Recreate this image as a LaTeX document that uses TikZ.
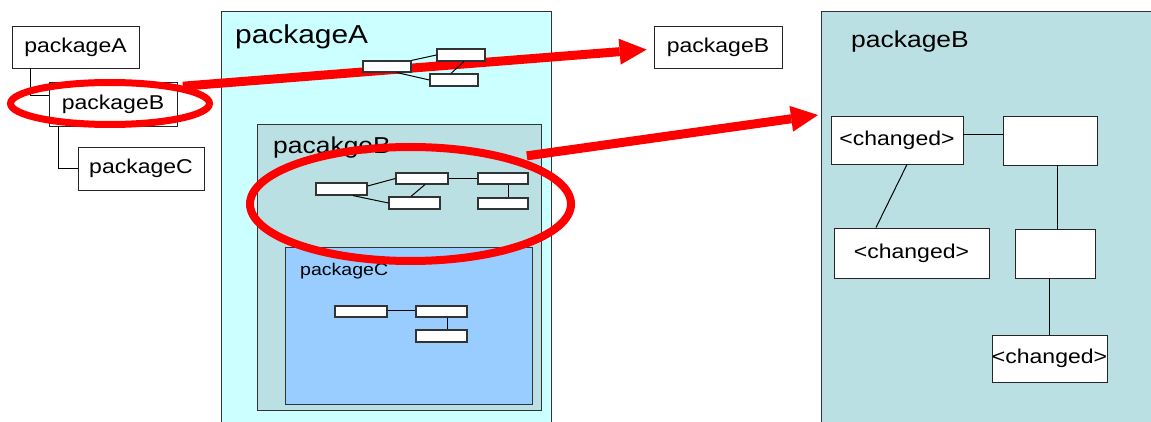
\documentclass[tikz,border=0pt]{standalone}
\usepackage{fontspec}
\setmainfont{Liberation Sans}[FakeStretch=1.15]
\usetikzlibrary{arrows.meta,shapes.geometric}

\definecolor{pkgcyan}{RGB}{204,255,255}
\definecolor{pkgteal}{RGB}{187,224,227}
\definecolor{pkgblue}{RGB}{153,204,255}

\tikzset{
  panel/.style={draw=black!80, line width=1pt, inner sep=0pt, outer sep=0pt},
  title/.style={anchor=base west, inner sep=0pt, text=black},
  treebox/.style={draw=black!85, line width=0.9pt, fill=white, inner sep=0pt,
    font=\fontsize{20}{24}\selectfont},
  mini/.style={draw=black!80, line width=1.2pt, fill=white, inner sep=0pt},
  link/.style={draw=black, line width=1pt},
  halo/.style={draw=red, ellipse, inner sep=0pt},
  bigarrow/.style={draw=red, line width=9pt,
    -{Triangle[length=27pt,width=26pt,line width=0pt]}},
}

\begin{document}
\begin{tikzpicture}[x=1pt,y=-1pt]
\useasboundingbox (0,0) rectangle (1151,422);
\fill[white] (0,0) rectangle (1151,422);

% nested package panels
\node[panel, fill=pkgcyan, minimum width=330pt, minimum height=430pt] (pA) at (386.5,227) {};
\node[title, font=\fontsize{26}{30}\selectfont] (pAt) at (235,43.5) {packageA};
\node[panel, fill=pkgteal, minimum width=284pt, minimum height=285pt] (pB) at (399,267.5) {};
\node[title, font=\fontsize{23}{27}\selectfont] (pBt) at (273,154) {pacakgeB};
\node[panel, fill=pkgblue, minimum width=247pt, minimum height=157pt] (pC) at (408.5,325.5) {};
\node[title, font=\fontsize{17}{20}\selectfont] (pCt) at (300,275) {packageC};

% right-hand package panel
\node[panel, fill=pkgteal, minimum width=332pt, minimum height=428pt] (pR) at (987,226) {};
\node[title, font=\fontsize{23}{27}\selectfont] (pRt) at (851,48) {packageB};

% package tree on the left
\node[treebox, minimum width=127pt, minimum height=42pt] (lA) at (75.5,47) {packageA};
\node[treebox, minimum width=128pt, minimum height=44pt] (lB) at (113,104) {packageB};
\node[treebox, minimum width=126pt, minimum height=43pt] (lC) at (141,168.5) {packageC};
\draw[link] ([xshift=19pt]lA.south west) |- ([yshift=8pt]lB.west);
\draw[link] ([xshift=10pt]lB.south west) |- (lC.west);

% the extracted package
\node[treebox, minimum width=128pt, minimum height=42pt] (mB) at (718,47) {packageB};

% classes inside pacakgeB
\node[mini, minimum width=51pt, minimum height=12pt] (b1) at (341.5,189) {};
\node[mini, minimum width=52pt, minimum height=11pt] (b2) at (422,178.5) {};
\node[mini, minimum width=51pt, minimum height=12pt] (b3) at (414.5,203) {};
\node[mini, minimum width=50pt, minimum height=11pt] (b4) at (503,178.5) {};
\node[mini, minimum width=50pt, minimum height=11pt] (b5) at (503,203.5) {};
\draw[link] ([yshift=3pt]b1.east) -- (b2.west);
\draw[link] ([xshift=11.5pt]b1.south) -- (b3.west);
\draw[link] ([xshift=3pt]b2.south) -- ([xshift=-3.5pt]b3.north);
\draw[link] (b2.east) -- (b4.west);
\draw[link] ([xshift=5pt]b4.south) -- ([xshift=5pt]b5.north);

% classes inside packageC
\node[mini, minimum width=52pt, minimum height=11pt] (c1) at (361,311.5) {};
\node[mini, minimum width=51pt, minimum height=11pt] (c2) at (441.5,311.5) {};
\node[mini, minimum width=51pt, minimum height=12pt] (c3) at (441.5,336) {};
\draw[link] ([yshift=1.5pt]c1.east) -- ([yshift=1.5pt]c2.west);
\draw[link] ([xshift=5.5pt]c2.south) -- ([xshift=5.5pt]c3.north);

% classes of the right-hand packageB
\node[treebox, minimum width=132pt, minimum height=48pt] (r1) at (897,140) {<changed>};
\node[treebox, minimum width=94pt, minimum height=49pt] (r2) at (1050,140.5) {};
\node[treebox, minimum width=155pt, minimum height=50pt] (r3) at (911.5,253) {<changed>};
\node[treebox, minimum width=80pt, minimum height=49pt] (r4) at (1055,253.5) {};
\node[treebox, minimum width=115pt, minimum height=47pt] (r5) at (1049.5,358.5) {<changed>};
\draw[link] ([yshift=5pt]r1.east) -- ([yshift=5pt]r1.east -| r2.west);
\draw[link] ([xshift=10pt]r1.south) -- ([xshift=-35.5pt]r3.north);
\draw[link] ([xshift=7pt]r2.south) -- ([xshift=7pt]r2.south |- r4.north);
\draw[link] ([xshift=-6pt]r4.south) -- ([xshift=-6pt]r4.south |- r5.north);

% highlights and moves
\node[halo, line width=7pt, minimum width=199pt, minimum height=42pt] (e1) at (110,103.5) {};
\node[halo, line width=8pt, minimum width=321pt, minimum height=114pt] (e2) at (410.5,204) {};
\coordinate (tipB) at (818,115);
\draw[bigarrow, shorten >=7pt] (e1.north east) -- ([yshift=-2pt]mB.west);
\draw[bigarrow] ([yshift=5pt]e2.north east) -- (tipB);

% classes inside packageA (drawn over the arrow)
\node[mini, minimum width=48pt, minimum height=11pt] (a1) at (387,66.5) {};
\node[mini, minimum width=48pt, minimum height=12pt] (a2) at (461,55) {};
\node[mini, minimum width=48pt, minimum height=12pt] (a3) at (454,80) {};
\draw[link] (a1.north east) -- (a2.west);
\draw[link] ([xshift=10pt]a1.south) -- (a3.west);
\draw[link] ([xshift=3pt]a2.south) -- ([xshift=-3pt]a3.north);
\end{tikzpicture}
\end{document}
